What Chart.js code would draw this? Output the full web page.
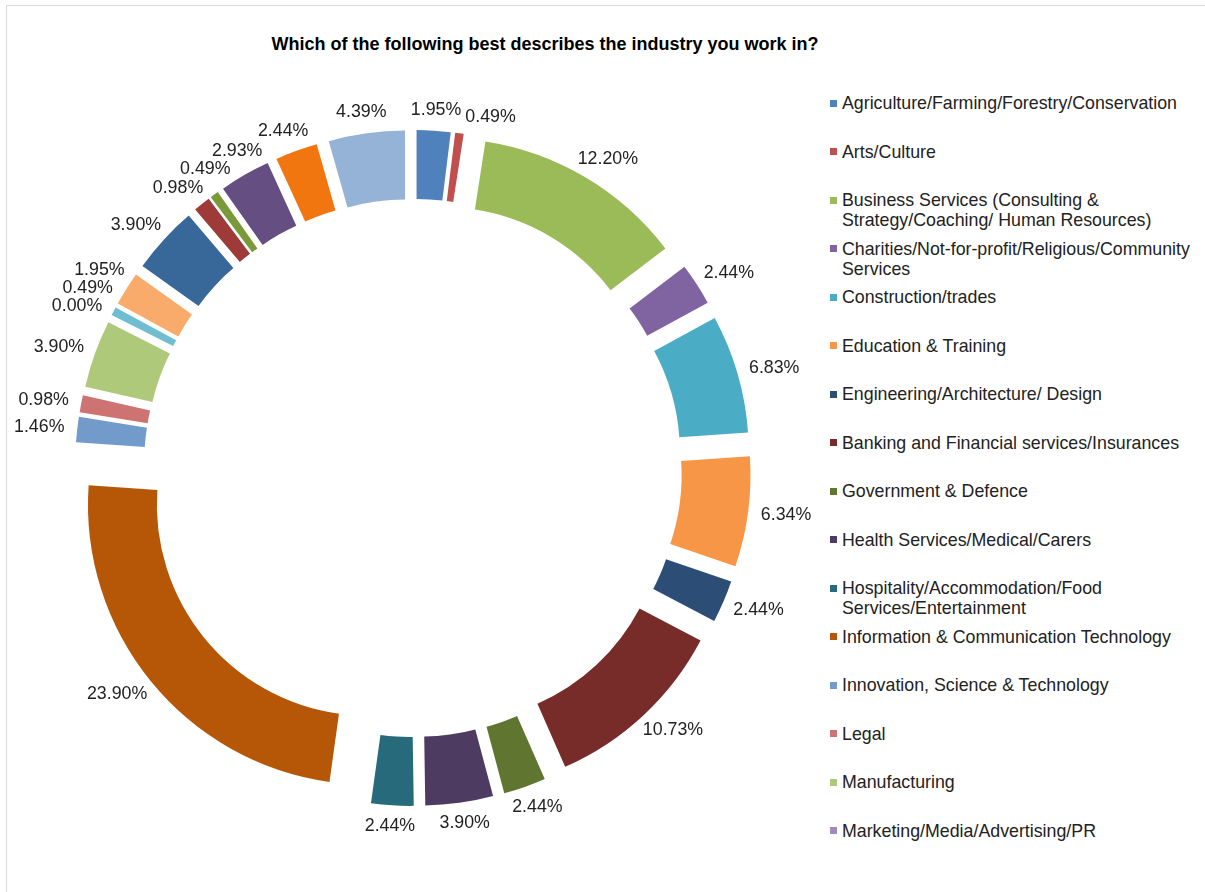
<!DOCTYPE html>
<html>
<head>
<meta charset="utf-8">
<script src="https://cdn.jsdelivr.net/npm/chart.js@4/dist/chart.umd.min.js"></script>
<style>
  body { margin: 0; width: 1205px; height: 892px; overflow: hidden; background: #fff; position: relative;
         font-family: 'Liberation Sans', Arial, sans-serif; }
  #frame { position: absolute; left: 6px; top: 5px; width: 1300px; height: 1000px; border: 1px solid #d9d9d9; }
  #title { position: absolute; left: 0; top: 33px; width: 1090px; text-align: center;
           font-size: 18px; font-weight: bold; line-height: 22px; color: #000; }
  #chartBox { position: absolute; left: 0; top: 0; width: 826px; height: 892px; }
  #legend { position: absolute; left: 830px; top: 93px; }
  .item { position: relative; height: 48.5px; }
  .box { position: absolute; left: 0; top: 6.5px; width: 7px; height: 7px; }
  .txt { position: absolute; left: 12px; top: 0; font-size: 17.8px; line-height: 20px; color: #222; white-space: pre; }
</style>
</head>
<body>
<div id="frame"></div>
<div id="title">Which of the following best describes the industry you work in?</div>
<div id="chartBox"><canvas id="chart" width="826" height="892"></canvas></div>
<div id="legend"></div>

<script>
const industries = [
  'Agriculture/Farming/Forestry/Conservation',
  'Arts/Culture',
  'Business Services (Consulting &\nStrategy/Coaching/ Human Resources)',
  'Charities/Not-for-profit/Religious/Community\nServices',
  'Construction/trades',
  'Education & Training',
  'Engineering/Architecture/ Design',
  'Banking and Financial services/Insurances',
  'Government & Defence',
  'Health Services/Medical/Carers',
  'Hospitality/Accommodation/Food\nServices/Entertainment',
  'Information & Communication Technology',
  'Innovation, Science & Technology',
  'Legal',
  'Manufacturing',
  'Marketing/Media/Advertising/PR',
  'Mining/Resources/Energy',
  'Property/Real Estate',
  'Public Administration',
  'Retail',
  'Sales',
  'Tourism/Travel',
  'Transport/Logistics',
  'Other'
];

const shares = [1.95, 0.49, 12.20, 2.44, 6.83, 6.34, 2.44, 10.73, 2.44, 3.90, 2.44, 23.90,
                1.46, 0.98, 3.90, 0.00, 0.49, 1.95, 3.90, 0.98, 0.49, 2.93, 2.44, 4.39];

const colors = ['#4F81BD', '#C0504D', '#9BBB59', '#8064A2', '#4BACC6', '#F79646',
                '#2C4D75', '#772C2A', '#5F7530', '#4D3B62', '#276A7C', '#B65708',
                '#729ACA', '#CD7371', '#AFC97A', '#A18BBC', '#6FBDD1', '#F9AB6B',
                '#38679A', '#9E3A38', '#7A9A3A', '#644E82', '#F2760F', '#95B3D7'];

// only the first 16 entries fit in the legend
const legendCount = 16;

const EXPLODE = 58;

// draws every slice pushed out along its middle angle, like an exploded doughnut
const explodePlugin = {
  id: 'explode',
  beforeDatasetsDraw(chart) {
    const ctx = chart.ctx;
    chart.getDatasetMeta(0).data.forEach(arc => {
      const mid = (arc.startAngle + arc.endAngle) / 2;
      ctx.save();
      ctx.translate(Math.cos(mid) * EXPLODE, Math.sin(mid) * EXPLODE);
      arc.draw(ctx);
      ctx.restore();
    });
    return false;
  },
  afterDraw(chart) {
    const ctx = chart.ctx;
    ctx.save();
    ctx.font = '17.8px "Liberation Sans", Arial, sans-serif';
    ctx.fillStyle = '#222';
    ctx.textAlign = 'center';
    ctx.textBaseline = 'middle';
    const placed = [];
    const h = 18;
    const overlaps = b => placed.some(p =>
      Math.abs(p.x - b.x) < (p.w + b.w) / 2 && Math.abs(p.y - b.y) < h);
    chart.getDatasetMeta(0).data.forEach((arc, i) => {
      const text = shares[i].toFixed(2) + '%';
      const w = ctx.measureText(text).width + 2;
      const r = arc.outerRadius + EXPLODE + 12;
      let a = (arc.startAngle + arc.endAngle) / 2;
      let box;
      // nudge a label clockwise until it clears the ones already placed
      for (let k = 0; k < 60; k++) {
        box = {
          x: arc.x + Math.cos(a) * (r + w / 2),
          y: arc.y + Math.sin(a) * (r + h / 2),
          w: w
        };
        if (!overlaps(box)) break;
        a += Math.PI / 360;
      }
      placed.push(box);
      ctx.fillText(text, box.x, box.y);
    });
    ctx.restore();
  }
};

new Chart(document.getElementById('chart'), {
  type: 'doughnut',
  data: {
    labels: industries,
    datasets: [{
      data: shares,
      backgroundColor: colors,
      borderWidth: 0
    }]
  },
  options: {
    responsive: false,
    animation: false,
    devicePixelRatio: 1,
    radius: 280,
    cutout: '75.4%',
    layout: { padding: { top: 44 } },
    plugins: {
      legend: { display: false },
      tooltip: { enabled: false }
    }
  },
  plugins: [explodePlugin]
});

const legend = document.getElementById('legend');
industries.slice(0, legendCount).forEach((name, i) => {
  const item = document.createElement('div');
  item.className = 'item';
  const box = document.createElement('div');
  box.className = 'box';
  box.style.background = colors[i];
  const txt = document.createElement('div');
  txt.className = 'txt';
  txt.innerText = name;
  item.appendChild(box);
  item.appendChild(txt);
  legend.appendChild(item);
});
</script>
</body>
</html>
